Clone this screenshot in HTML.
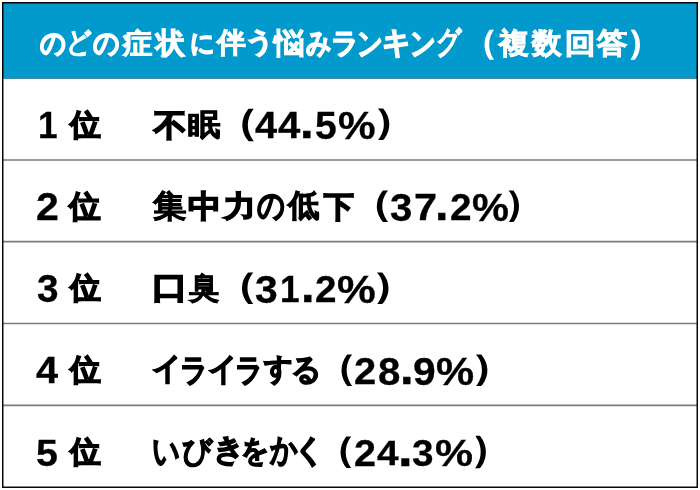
<!DOCTYPE html>
<html><head><meta charset="utf-8"><style>
html,body{margin:0;padding:0;background:#fff;width:700px;height:490px;overflow:hidden}
#w{position:relative;width:700px;height:490px;font-family:'Liberation Sans',sans-serif;font-weight:bold;will-change:transform}
#w span{position:absolute;white-space:pre;transform-origin:0 0;display:block}
svg{position:absolute;left:0;top:0}
</style></head><body><div id="w">
<svg width="700" height="490" viewBox="0 0 700 490">
<rect x="3" y="3" width="694" height="75.5" fill="#0299cc"/>
<line x1="3" y1="78.5" x2="697" y2="78.5" stroke="#4a8aa0" stroke-width="1"/>
<g stroke="#7c7c7c" stroke-width="1.6">
<line x1="3" y1="160" x2="697" y2="160"/>
<line x1="3" y1="241.6" x2="697" y2="241.6"/>
<line x1="3" y1="323.5" x2="697" y2="323.5"/>
<line x1="3" y1="405.4" x2="697" y2="405.4"/>
</g>
<rect x="2.75" y="2.75" width="694.5" height="484.5" fill="none" stroke="#000" stroke-width="1.45"/>
</svg>
<span style="left:40.07px;top:28.24px;font-size:29.48px;line-height:29.48px;transform:scaleX(0.8830);color:#fff;-webkit-text-stroke:1.3px #fff">の</span>
<span style="left:65.69px;top:27.62px;font-size:29.16px;line-height:29.16px;transform:scaleX(0.8679);color:#fff;-webkit-text-stroke:0.5px #fff">ど</span>
<span style="left:92.59px;top:28.91px;font-size:29.12px;line-height:29.12px;transform:scaleX(0.9036);color:#fff;-webkit-text-stroke:1.3px #fff">の</span>
<span style="left:123.37px;top:29.90px;font-size:27.69px;line-height:27.69px;transform:scaleX(1.0455);color:#fff;-webkit-text-stroke:0.9px #fff">症</span>
<span style="left:156.23px;top:28.85px;font-size:28.61px;line-height:28.61px;transform:scaleX(0.9906);color:#fff;-webkit-text-stroke:1.1px #fff">状</span>
<span style="left:189.71px;top:29.93px;font-size:26.16px;line-height:26.16px;transform:scaleX(0.9305);color:#fff;-webkit-text-stroke:1.3px #fff">に</span>
<span style="left:216.75px;top:29.23px;font-size:28.11px;line-height:28.11px;transform:scaleX(1.0258);color:#fff;-webkit-text-stroke:0.9px #fff">伴</span>
<span style="left:245.42px;top:29.20px;font-size:26.59px;line-height:26.59px;transform:scaleX(1.0747);color:#fff;-webkit-text-stroke:1.3px #fff">う</span>
<span style="left:273.86px;top:29.08px;font-size:29.07px;line-height:29.07px;transform:scaleX(1.0548);color:#fff;-webkit-text-stroke:0.9px #fff">悩</span>
<span style="left:306.48px;top:28.50px;font-size:28.66px;line-height:28.66px;transform:scaleX(0.8608);color:#fff;-webkit-text-stroke:1.3px #fff">み</span>
<span style="left:330.63px;top:27.93px;font-size:29.31px;line-height:29.31px;transform:scaleX(0.9483);color:#fff;-webkit-text-stroke:1.3px #fff">ラ</span>
<span style="left:357.28px;top:28.74px;font-size:30.71px;line-height:30.71px;transform:scaleX(0.8249);color:#fff;-webkit-text-stroke:1.3px #fff">ン</span>
<span style="left:382.18px;top:26.55px;font-size:31.18px;line-height:31.18px;transform:scaleX(0.9194);color:#fff;-webkit-text-stroke:1.3px #fff">キ</span>
<span style="left:410.09px;top:27.83px;font-size:31.06px;line-height:31.06px;transform:scaleX(0.8220);color:#fff;-webkit-text-stroke:1.3px #fff">ン</span>
<span style="left:436.23px;top:26.77px;font-size:31.62px;line-height:31.62px;transform:scaleX(0.7878);color:#fff;-webkit-text-stroke:0.5px #fff">グ</span>
<span style="left:466.19px;top:25.52px;font-size:32.14px;line-height:32.14px;transform:scaleX(0.9497);color:#fff;-webkit-text-stroke:1.4px #fff">（</span>
<span style="left:499.26px;top:28.99px;font-size:28.60px;line-height:28.60px;transform:scaleX(1.0240);color:#fff;-webkit-text-stroke:0.9px #fff">複</span>
<span style="left:532.10px;top:28.50px;font-size:28.84px;line-height:28.84px;transform:scaleX(1.0177);color:#fff;-webkit-text-stroke:0.9px #fff">数</span>
<span style="left:565.22px;top:29.73px;font-size:27.73px;line-height:27.73px;transform:scaleX(1.0902);color:#fff;-webkit-text-stroke:1.1px #fff">回</span>
<span style="left:596.62px;top:28.34px;font-size:29.35px;line-height:29.35px;transform:scaleX(1.0405);color:#fff;-webkit-text-stroke:0.9px #fff">答</span>
<span style="left:628.18px;top:25.52px;font-size:32.14px;line-height:32.14px;transform:scaleX(0.9610);color:#fff;-webkit-text-stroke:1.4px #fff">）</span>
<span style="left:37.65px;top:107.27px;font-size:37.07px;line-height:37.07px;transform:scaleX(0.9490);color:#000;-webkit-text-stroke:0.3px #000">1</span>
<span style="left:69.97px;top:110.40px;font-size:30.11px;line-height:30.11px;transform:scaleX(1.0228);color:#000;-webkit-text-stroke:1.4px #000">位</span>
<span style="left:154.15px;top:109.87px;font-size:30.57px;line-height:30.57px;transform:scaleX(1.0436);color:#000;-webkit-text-stroke:1.6px #000">不</span>
<span style="left:188.04px;top:109.96px;font-size:29.92px;line-height:29.92px;transform:scaleX(1.0801);color:#000;-webkit-text-stroke:0.9px #000">眠</span>
<span style="left:219.12px;top:105.12px;font-size:34.55px;line-height:34.55px;transform:scaleX(1.0857);color:#000;-webkit-text-stroke:1.4px #000">（</span>
<span style="left:254.81px;top:107.34px;font-size:37.45px;line-height:37.45px;transform:scaleX(1.0638);color:#000;-webkit-text-stroke:0.3px #000">4</span>
<span style="left:278.31px;top:106.88px;font-size:37.30px;line-height:37.30px;transform:scaleX(1.0731);color:#000;-webkit-text-stroke:0.3px #000">4</span>
<span style="left:299.89px;top:100.18px;font-size:45.64px;line-height:45.64px;transform:scaleX(1.0678);color:#000;-webkit-text-stroke:0.5px #000">.</span>
<span style="left:314.50px;top:107.33px;font-size:38.16px;line-height:38.16px;transform:scaleX(1.0236);color:#000;-webkit-text-stroke:0.3px #000">5</span>
<span style="left:338.34px;top:105.55px;font-size:39.01px;line-height:39.01px;transform:scaleX(1.0834);color:#000;-webkit-text-stroke:0.3px #000">%</span>
<span style="left:374.59px;top:104.48px;font-size:34.31px;line-height:34.31px;transform:scaleX(1.0844);color:#000;-webkit-text-stroke:1.4px #000">）</span>
<span style="left:36.26px;top:187.83px;font-size:38.43px;line-height:38.43px;transform:scaleX(1.0680);color:#000;-webkit-text-stroke:0.3px #000">2</span>
<span style="left:69.25px;top:191.11px;font-size:30.56px;line-height:30.56px;transform:scaleX(1.0208);color:#000;-webkit-text-stroke:1.4px #000">位</span>
<span style="left:152.51px;top:191.24px;font-size:31.65px;line-height:31.65px;transform:scaleX(1.0506);color:#000;-webkit-text-stroke:0.6px #000">集</span>
<span style="left:188.25px;top:191.48px;font-size:30.60px;line-height:30.60px;transform:scaleX(1.0748);color:#000;-webkit-text-stroke:1.4px #000">中</span>
<span style="left:224.43px;top:192.07px;font-size:28.50px;line-height:28.50px;transform:scaleX(1.0878);color:#000;-webkit-text-stroke:1.6px #000">力</span>
<span style="left:256.78px;top:188.50px;font-size:33.76px;line-height:33.76px;transform:scaleX(0.8102);color:#000;-webkit-text-stroke:1.3px #000">の</span>
<span style="left:287.70px;top:190.42px;font-size:31.17px;line-height:31.17px;transform:scaleX(1.0102);color:#000;-webkit-text-stroke:1.0px #000">低</span>
<span style="left:323.57px;top:191.51px;font-size:30.18px;line-height:30.18px;transform:scaleX(0.9934);color:#000;-webkit-text-stroke:1.6px #000">下</span>
<span style="left:353.57px;top:186.48px;font-size:34.31px;line-height:34.31px;transform:scaleX(1.0943);color:#000;-webkit-text-stroke:1.4px #000">（</span>
<span style="left:390.38px;top:187.81px;font-size:39.31px;line-height:39.31px;transform:scaleX(1.0224);color:#000;-webkit-text-stroke:0.3px #000">3</span>
<span style="left:413.50px;top:189.27px;font-size:37.07px;line-height:37.07px;transform:scaleX(1.1189);color:#000;-webkit-text-stroke:0.3px #000">7</span>
<span style="left:435.33px;top:182.35px;font-size:45.32px;line-height:45.32px;transform:scaleX(1.0660);color:#000;-webkit-text-stroke:0.5px #000">.</span>
<span style="left:450.11px;top:189.23px;font-size:37.47px;line-height:37.47px;transform:scaleX(1.0331);color:#000;-webkit-text-stroke:0.3px #000">2</span>
<span style="left:472.06px;top:187.55px;font-size:39.01px;line-height:39.01px;transform:scaleX(1.0651);color:#000;-webkit-text-stroke:0.3px #000">%</span>
<span style="left:505.52px;top:186.48px;font-size:34.31px;line-height:34.31px;transform:scaleX(0.9868);color:#000;-webkit-text-stroke:1.4px #000">）</span>
<span style="left:36.68px;top:269.40px;font-size:39.10px;line-height:39.10px;transform:scaleX(0.9923);color:#000;-webkit-text-stroke:0.3px #000">3</span>
<span style="left:69.58px;top:273.25px;font-size:30.11px;line-height:30.11px;transform:scaleX(1.0258);color:#000;-webkit-text-stroke:1.4px #000">位</span>
<span style="left:151.51px;top:272.39px;font-size:30.56px;line-height:30.56px;transform:scaleX(1.1512);color:#000;-webkit-text-stroke:1.6px #000">口</span>
<span style="left:188.70px;top:272.77px;font-size:29.67px;line-height:29.67px;transform:scaleX(1.0074);color:#000;-webkit-text-stroke:0.6px #000">臭</span>
<span style="left:219.34px;top:268.07px;font-size:34.13px;line-height:34.13px;transform:scaleX(1.1017);color:#000;-webkit-text-stroke:1.4px #000">（</span>
<span style="left:254.95px;top:270.09px;font-size:39.05px;line-height:39.05px;transform:scaleX(1.0459);color:#000;-webkit-text-stroke:0.3px #000">3</span>
<span style="left:279.66px;top:271.27px;font-size:37.07px;line-height:37.07px;transform:scaleX(0.9490);color:#000;-webkit-text-stroke:0.3px #000">1</span>
<span style="left:301.09px;top:264.00px;font-size:45.95px;line-height:45.95px;transform:scaleX(1.0589);color:#000;-webkit-text-stroke:0.5px #000">.</span>
<span style="left:314.91px;top:271.02px;font-size:37.78px;line-height:37.78px;transform:scaleX(1.0238);color:#000;-webkit-text-stroke:0.3px #000">2</span>
<span style="left:337.21px;top:269.55px;font-size:39.01px;line-height:39.01px;transform:scaleX(1.1170);color:#000;-webkit-text-stroke:0.3px #000">%</span>
<span style="left:374.28px;top:268.07px;font-size:34.13px;line-height:34.13px;transform:scaleX(1.1001);color:#000;-webkit-text-stroke:1.4px #000">）</span>
<span style="left:35.62px;top:353.13px;font-size:36.45px;line-height:36.45px;transform:scaleX(1.0887);color:#000;-webkit-text-stroke:0.3px #000">4</span>
<span style="left:69.58px;top:354.83px;font-size:30.36px;line-height:30.36px;transform:scaleX(1.0236);color:#000;-webkit-text-stroke:1.4px #000">位</span>
<span style="left:152.30px;top:353.46px;font-size:31.47px;line-height:31.47px;transform:scaleX(0.9396);color:#000;-webkit-text-stroke:1.3px #000">イ</span>
<span style="left:179.76px;top:354.06px;font-size:32.09px;line-height:32.09px;transform:scaleX(0.8661);color:#000;-webkit-text-stroke:1.3px #000">ラ</span>
<span style="left:208.24px;top:353.62px;font-size:31.67px;line-height:31.67px;transform:scaleX(0.9026);color:#000;-webkit-text-stroke:1.3px #000">イ</span>
<span style="left:235.06px;top:353.69px;font-size:32.16px;line-height:32.16px;transform:scaleX(0.8689);color:#000;-webkit-text-stroke:1.3px #000">ラ</span>
<span style="left:263.76px;top:353.84px;font-size:29.62px;line-height:29.62px;transform:scaleX(0.9427);color:#000;-webkit-text-stroke:1.3px #000">す</span>
<span style="left:290.58px;top:353.86px;font-size:30.63px;line-height:30.63px;transform:scaleX(0.9679);color:#000;-webkit-text-stroke:1.3px #000">る</span>
<span style="left:319.74px;top:350.17px;font-size:34.03px;line-height:34.03px;transform:scaleX(1.0327);color:#000;-webkit-text-stroke:1.4px #000">（</span>
<span style="left:354.27px;top:352.57px;font-size:37.79px;line-height:37.79px;transform:scaleX(1.0542);color:#000;-webkit-text-stroke:0.3px #000">2</span>
<span style="left:377.81px;top:352.27px;font-size:39.05px;line-height:39.05px;transform:scaleX(1.0304);color:#000;-webkit-text-stroke:0.3px #000">8</span>
<span style="left:399.75px;top:346.00px;font-size:45.95px;line-height:45.95px;transform:scaleX(1.0589);color:#000;-webkit-text-stroke:0.5px #000">.</span>
<span style="left:413.16px;top:351.93px;font-size:39.05px;line-height:39.05px;transform:scaleX(1.0426);color:#000;-webkit-text-stroke:0.3px #000">9</span>
<span style="left:436.33px;top:351.55px;font-size:39.01px;line-height:39.01px;transform:scaleX(1.0987);color:#000;-webkit-text-stroke:0.3px #000">%</span>
<span style="left:473.27px;top:350.12px;font-size:34.08px;line-height:34.08px;transform:scaleX(1.0904);color:#000;-webkit-text-stroke:1.4px #000">）</span>
<span style="left:36.47px;top:434.51px;font-size:37.83px;line-height:37.83px;transform:scaleX(1.0398);color:#000;-webkit-text-stroke:0.3px #000">5</span>
<span style="left:69.58px;top:436.83px;font-size:30.36px;line-height:30.36px;transform:scaleX(1.0236);color:#000;-webkit-text-stroke:1.4px #000">位</span>
<span style="left:151.93px;top:433.96px;font-size:34.67px;line-height:34.67px;transform:scaleX(0.7854);color:#000;-webkit-text-stroke:1.3px #000">い</span>
<span style="left:181.84px;top:434.68px;font-size:32.16px;line-height:32.16px;transform:scaleX(0.9385);color:#000;-webkit-text-stroke:0.8px #000">び</span>
<span style="left:213.19px;top:434.37px;font-size:31.01px;line-height:31.01px;transform:scaleX(1.0047);color:#000;-webkit-text-stroke:1.3px #000">き</span>
<span style="left:240.59px;top:435.81px;font-size:30.28px;line-height:30.28px;transform:scaleX(0.9142);color:#000;-webkit-text-stroke:1.3px #000">を</span>
<span style="left:270.03px;top:433.61px;font-size:32.61px;line-height:32.61px;transform:scaleX(0.8273);color:#000;-webkit-text-stroke:1.3px #000">か</span>
<span style="left:293.42px;top:435.12px;font-size:30.66px;line-height:30.66px;transform:scaleX(1.0404);color:#000;-webkit-text-stroke:1.3px #000">く</span>
<span style="left:318.55px;top:431.72px;font-size:34.31px;line-height:34.31px;transform:scaleX(1.0352);color:#000;-webkit-text-stroke:1.4px #000">（</span>
<span style="left:353.54px;top:435.75px;font-size:36.60px;line-height:36.60px;transform:scaleX(1.0807);color:#000;-webkit-text-stroke:0.3px #000">2</span>
<span style="left:376.82px;top:435.92px;font-size:35.66px;line-height:35.66px;transform:scaleX(1.0889);color:#000;-webkit-text-stroke:0.3px #000">4</span>
<span style="left:398.00px;top:424.01px;font-size:49.33px;line-height:49.33px;transform:scaleX(1.0714);color:#000;-webkit-text-stroke:0.5px #000">.</span>
<span style="left:412.00px;top:434.74px;font-size:37.80px;line-height:37.80px;transform:scaleX(1.0243);color:#000;-webkit-text-stroke:0.3px #000">3</span>
<span style="left:435.25px;top:434.84px;font-size:37.62px;line-height:37.62px;transform:scaleX(1.1363);color:#000;-webkit-text-stroke:0.3px #000">%</span>
<span style="left:472.25px;top:431.71px;font-size:34.57px;line-height:34.57px;transform:scaleX(1.0263);color:#000;-webkit-text-stroke:1.4px #000">）</span>
</div></body></html>
